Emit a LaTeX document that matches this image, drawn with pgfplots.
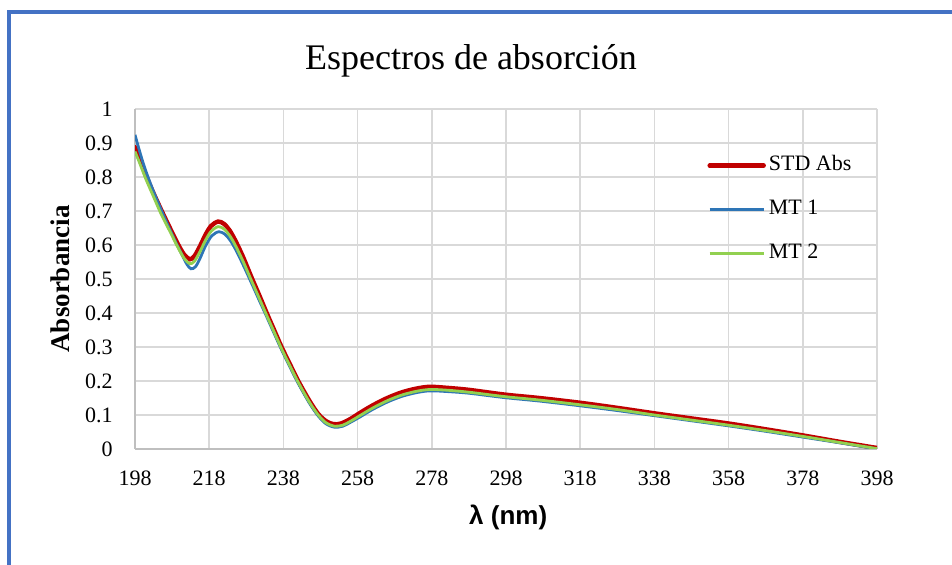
\documentclass[border=0pt]{standalone}
\usepackage{pgfplots}
\pgfplotsset{compat=1.18}
\usepackage{fontspec}
\setmainfont{Liberation Serif}
\newfontfamily\arialfont{Liberation Sans}
\definecolor{stdred}{HTML}{C00000}
\definecolor{mtblue}{HTML}{2E75B6}
\definecolor{mtgreen}{HTML}{92D050}
\definecolor{framecol}{HTML}{4472C4}
\definecolor{gridcol}{HTML}{D9D9D9}
\definecolor{axiscol}{HTML}{BFBFBF}
\begin{document}
\begin{tikzpicture}
\useasboundingbox (0,0) rectangle (476pt,282.5pt);
\draw[line width=2pt, color=framecol, line join=miter] (4.5pt,-2pt) -- (4.5pt,276.6pt) -- (478pt,276.6pt);
\node[anchor=base, font=\fontsize{18}{20}\selectfont, inner sep=0pt] at (235.5pt,247.5pt) {Espectros de absorción};
\begin{axis}[
  at={(67.5pt,58pt)}, anchor=south west,
  scale only axis, width=371pt, height=170pt,
  xmin=198, xmax=398, ymin=0, ymax=1,
  axis lines=left,
  axis line style={-, draw=axiscol, line width=0.75pt},
  xtick={198,218,238,258,278,298,318,338,358,378,398},
  ytick={0,0.1,0.2,0.3,0.4,0.5,0.6,0.7,0.8,0.9,1},
  yticklabels={0,0.1,0.2,0.3,0.4,0.5,0.6,0.7,0.8,0.9,1},
  major tick length=0pt,
  grid=major,
  major grid style={draw=gridcol, line width=0.75pt},
  /pgf/number format/assume math mode=true,
  tick label style={font=\fontsize{11}{13}\selectfont, inner sep=0pt},
  yticklabel style={anchor=east, xshift=-11pt},
  xticklabel style={anchor=north, yshift=-10.5pt},
  xlabel={{\arialfont\bfseries λ (nm)}},
  ylabel={Absorbancia},
  xlabel style={at={(axis description cs:0.503,-0.200)}, anchor=center, font=\fontsize{13}{15}\selectfont},
  ylabel style={at={(axis description cs:-0.1011,0.5)}, anchor=center, rotate=0, font=\bfseries\fontsize{13.5}{15}\selectfont},
  legend style={draw=none, fill=none, inner sep=0pt, at={(axis description cs:0.771,0.867)}, anchor=north west,
    row sep=11pt, column sep=1.5pt,
    nodes={inner sep=0pt, text height=8pt, text depth=3pt, font=\fontsize{11}{13}\selectfont}},
  legend cell align=left,
  legend image code/.code={\draw[#1] (0pt,0pt) -- (27pt,0pt);},
  smooth, tension=0.5,
]
\addplot[stdred, line width=2.2pt, line cap=round] coordinates {
(198,0.888)(199,0.860)(200,0.832)(201.1,0.800)(203,0.752)(205.2,0.700)(207.5,0.648)(209.7,0.600)
(211.3,0.571)(212.8,0.558)(214,0.567)(215.5,0.596)(217,0.630)(218.5,0.656)(220.4,0.669)(222,0.662)
(223.5,0.643)(225,0.614)(227,0.568)(229.4,0.505)(231.5,0.452)(233.5,0.400)(235.5,0.350)(237.5,0.300)
(240,0.244)(242,0.200)(245,0.142)(247.4,0.103)(249.5,0.082)(251.5,0.073)(253.5,0.075)(256,0.088)
(258.6,0.106)(262,0.128)(266,0.150)(270,0.167)(274,0.178)(277.5,0.183)(282,0.180)(288,0.174)
(297.7,0.160)(307,0.150)(318,0.136)(328,0.121)(338,0.105)(348,0.090)(358,0.075)(368,0.058)
(378,0.040)(388,0.021)(398,0.003)};
\addlegendentry{STD Abs}
\addplot[mtblue, line width=1.4pt] coordinates {
(198,0.924)(199,0.885)(200,0.848)(201,0.815)(203,0.757)(205,0.705)(207,0.655)(209,0.608)
(210.5,0.575)(212,0.543)(213.1,0.530)(214.3,0.536)(215.5,0.560)(217,0.597)(218.7,0.627)(220.6,0.639)
(222.2,0.632)(223.7,0.613)(225.3,0.583)(227.3,0.538)(229.4,0.488)(231.5,0.437)(233.5,0.389)(235.5,0.340)
(237.5,0.292)(240,0.236)(242,0.193)(245,0.135)(247.4,0.097)(249.5,0.074)(251.8,0.064)(254,0.067)
(256,0.078)(258.6,0.094)(262,0.116)(266,0.138)(270,0.155)(274,0.166)(277.5,0.171)(282,0.169)
(288,0.164)(297.7,0.151)(307,0.141)(318,0.127)(328,0.113)(338,0.098)(348,0.083)(358,0.068)
(368,0.052)(378,0.035)(388,0.018)(398,0.000)};
\addlegendentry{MT 1}
\addplot[mtgreen, line width=1.4pt] coordinates {
(198,0.875)(199,0.848)(200,0.820)(201,0.792)(203,0.742)(205,0.692)(207.5,0.638)(209.7,0.590)
(211.3,0.560)(212.8,0.545)(214,0.552)(215.5,0.580)(217,0.614)(218.5,0.640)(220.4,0.654)(222,0.647)
(223.5,0.628)(225,0.600)(227,0.555)(229.4,0.495)(231.5,0.443)(233.5,0.393)(235.5,0.344)(237.5,0.295)
(240,0.239)(242,0.196)(245,0.138)(247.4,0.100)(249.5,0.077)(251.8,0.067)(254,0.070)(256,0.081)
(258.6,0.098)(262,0.120)(266,0.142)(270,0.159)(274,0.170)(277.5,0.175)(282,0.173)(288,0.167)
(297.7,0.154)(307,0.144)(318,0.130)(328,0.116)(338,0.100)(348,0.085)(358,0.070)(368,0.054)
(378,0.037)(388,0.019)(398,0.001)};
\addlegendentry{MT 2}
\end{axis}
\end{tikzpicture}
\end{document}
